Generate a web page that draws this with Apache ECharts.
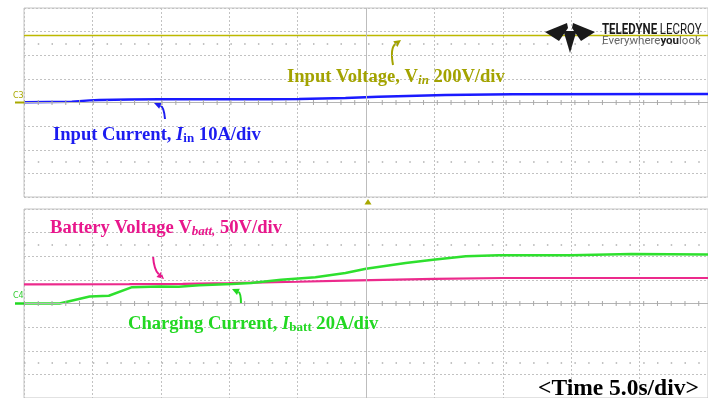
<!DOCTYPE html>
<html><head><meta charset="utf-8">
<script src="https://cdn.jsdelivr.net/npm/echarts@6/dist/echarts.min.js"></script>
<style>html,body{margin:0;padding:0;background:#fff}#c{width:708px;height:398px}</style>
</head><body><div id="c"></div>
<script>
// Time axis: seconds (5.0 s/div, 10 divisions). Values in screen divisions from channel ground (centre line).
const timeTicks = [0, 5, 10, 15, 20, 25, 30, 35, 40, 45, 50];
const timeVin = [0, 50];
const vinDiv  = [2.84, 2.84];
const timeIin = [0, 3.5, 4.8, 5.5, 7.7, 9.9, 17.9, 20.1, 23.5, 25.9, 30.8, 35.7, 50];
const iinDiv  = [0.01, 0.03, 0.09, 0.11, 0.13, 0.14, 0.14, 0.15, 0.19, 0.245, 0.32, 0.35, 0.36];
const timeVbatt = [0, 7.7, 11.6, 15, 20, 23.5, 30, 35, 50];
const vbattDiv  = [0.81, 0.82, 0.83, 0.86, 0.92, 0.97, 1.04, 1.08, 1.08];
const timeIbatt = [0, 2.6, 4.8, 6.2, 7.9, 8.6, 9.9, 11.3, 12.8, 15.2, 16.6, 18.8, 21.3, 23.5, 25, 27.9, 29.9, 32.3, 34.7, 40, 44.4, 50];
const ibattDiv  = [0.0, 0.0, 0.3, 0.33, 0.69, 0.70, 0.72, 0.71, 0.77, 0.83, 0.87, 1.01, 1.11, 1.29, 1.47, 1.71, 1.85, 2.0, 2.04, 2.04, 2.1, 2.07];

const pairs = (t, v) => t.map((x, i) => [x, v[i]]);
const chart = echarts.init(document.getElementById('c'), null, {renderer: 'canvas'});

const gridLine = {show: true, lineStyle: {color: '#c2c2c2', type: [2, 2], width: 1}};
function xAx(g) {
  return {type: 'value', gridIndex: g, min: timeTicks[0], max: timeTicks[timeTicks.length - 1], interval: 5,
    axisLine: {show: false}, axisTick: {show: false}, axisLabel: {show: false}, splitLine: gridLine};
}
function yAx(g) {
  return {type: 'value', gridIndex: g, min: -4, max: 4, interval: 1,
    axisLine: {show: false}, axisTick: {show: false}, axisLabel: {show: false}, splitLine: gridLine};
}
function furniture(g) {
  return {type: 'line', xAxisIndex: g, yAxisIndex: g, data: [], z: 1, silent: true,
    markLine: {silent: true, symbol: ['none', 'none'], label: {show: false}, animation: false,
      emphasis: {disabled: true},
      data: [
        {yAxis: 0, lineStyle: {color: '#b4b4b4', type: 'solid', width: 1}},
        {yAxis: 0, lineStyle: {color: '#a8a8a8', type: [1, 12.76], width: 5}},
        {xAxis: 25, lineStyle: {color: '#bdbdbd', type: 'solid', width: 1}},
        {yAxis: 2.5, lineStyle: {color: '#b0b0b0', type: [1.5, 12.26], width: 1.5}},
        {yAxis: -2.5, lineStyle: {color: '#b0b0b0', type: [1.5, 12.26], width: 1.5}}
      ]}};
}
function trace(g, data, color, w) {
  return {type: 'line', xAxisIndex: g, yAxisIndex: g, data: data, showSymbol: false, z: 3,
    lineStyle: {color: color, width: w}, emphasis: {disabled: true}};
}
function arrow(x1, y1, cx, cy, x2, y2, color) {
  let dx = x2 - cx, dy = y2 - cy; const L = Math.hypot(dx, dy); dx /= L; dy /= L;
  const hl = 7, hw = 3.5;
  const bx = x2 - hl * dx, by = y2 - hl * dy;
  return [
    {type: 'bezierCurve', shape: {x1: x1, y1: y1, cpx1: cx, cpy1: cy, x2: bx, y2: by}, style: {stroke: color, lineWidth: 2, fill: null}},
    {type: 'polygon', shape: {points: [[x2, y2], [bx - hw * dy, by + hw * dx], [bx + hw * dy, by - hw * dx]]}, style: {fill: color}}
  ];
}
const SERIF = '"Liberation Serif", "Times New Roman", serif';
function rich(col) {
  return {
    a: {fill: col, fontFamily: SERIF, fontWeight: 'bold', fontSize: 18.6},
    i: {fill: col, fontFamily: SERIF, fontWeight: 'bold', fontStyle: 'italic', fontSize: 18.6},
    s: {fill: col, fontFamily: SERIF, fontWeight: 'bold', fontSize: 13, verticalAlign: 'bottom', lineHeight: 9},
    si: {fill: col, fontFamily: SERIF, fontWeight: 'bold', fontStyle: 'italic', fontSize: 13, verticalAlign: 'bottom', lineHeight: 9}
  };
}
const olive = '#a3a300', blue = '#1c1cf0', mag = '#e8178c', grn = '#22d822';
const graphics = [
  {type: 'text', left: 287, top: 68, z: 10, style: {text: '{a|Input Voltage, V}{si|in}{a| 200V/div}', rich: rich(olive)}},
  {type: 'text', left: 53, top: 126, z: 10, style: {text: '{a|Input Current, }{i|I}{s|in}{a| 10A/div}', rich: rich(blue)}},
  {type: 'text', left: 50, top: 219, z: 10, style: {text: '{a|Battery Voltage V}{si|batt,}{a| 50V/div}', rich: rich(mag)}},
  {type: 'text', left: 128, top: 315, z: 10, style: {text: '{a|Charging Current, }{i|I}{s|batt}{a| 20A/div}', rich: rich(grn)}},
  {type: 'text', left: 538, top: 376.5, z: 10, style: {text: '<Time 5.0s/div>', fill: '#000', fontFamily: SERIF, fontWeight: 'bold', fontSize: 23.5}},
  // channel markers
  {type: 'text', left: 13, top: 92, z: 10, style: {text: 'C3', fill: '#a8a800', fontFamily: 'DejaVu Sans', fontSize: 8}},
  {type: 'line', z: 10, shape: {x1: 15, y1: 102.5, x2: 24, y2: 102.5}, style: {stroke: '#a8a800', lineWidth: 2}},
  {type: 'text', left: 13, top: 292, z: 10, style: {text: 'C4', fill: '#33cc33', fontFamily: 'DejaVu Sans', fontSize: 8}},
  {type: 'line', z: 10, shape: {x1: 15, y1: 303.5, x2: 24, y2: 303.5}, style: {stroke: '#22d822', lineWidth: 2.5}},
  // trigger marker
  {type: 'polygon', z: 10, shape: {points: [[368, 199], [364.5, 204.5], [371.5, 204.5]]}, style: {fill: '#a8a800'}},
  // logo
  {type: 'polygon', z: 10, shape: {points: [[545, 32], [567, 23], [568, 28], [559, 41]]}, style: {fill: '#1a1a1a'}},
  {type: 'polygon', z: 10, shape: {points: [[595, 32], [573, 23], [572, 28], [581, 41]]}, style: {fill: '#1a1a1a'}},
  {type: 'polygon', z: 10, shape: {points: [[563.5, 31], [576.5, 31], [570, 53]]}, style: {fill: '#1a1a1a'}},
  {type: 'text', left: 602, top: 23, z: 10, scaleX: 0.82, originX: 602, style: {text: '{b|TELEDYNE} {n|LECROY}',
    rich: {b: {fill: '#1a1a1a', fontFamily: 'Roboto', fontWeight: 'bold', fontSize: 14}, n: {fill: '#1a1a1a', fontFamily: 'Roboto', fontWeight: 'normal', fontSize: 14}}}},
  {type: 'text', left: 602, top: 35, z: 10, style: {text: '{n|Everywhere}{b|you}{n|look}',
    rich: {b: {fill: '#222', fontFamily: 'Roboto', fontWeight: 'bold', fontSize: 11.5}, n: {fill: '#666', fontFamily: 'Roboto', fontWeight: 'normal', fontSize: 11.5}}}}
].concat(
  arrow(393, 65, 390, 48, 401, 40, olive),
  arrow(165, 119, 164, 107, 154, 103, blue),
  arrow(153, 256, 154, 270, 164, 279, mag),
  arrow(241, 304, 241, 293, 232, 289, grn)
);

chart.setOption({
  animation: false,
  backgroundColor: '#ffffff',
  grid: [
    {left: 24, top: 8, width: 688, height: 189, show: true, borderColor: '#c4c4c4', borderWidth: 1},
    {left: 24, top: 209, width: 688, height: 189, show: true, borderColor: '#c4c4c4', borderWidth: 1}
  ],
  xAxis: [xAx(0), xAx(1)],
  yAxis: [yAx(0), yAx(1)],
  series: [
    furniture(0), furniture(1),
    trace(0, pairs(timeVin, vinDiv), '#bdb900', 1.5),
    trace(0, pairs(timeIin, iinDiv), '#1a1aff', 2.5),
    trace(1, pairs(timeVbatt, vbattDiv), '#ec2a8c', 2.2),
    trace(1, pairs(timeIbatt, ibattDiv), '#2ee02e', 2.5)
  ],
  graphic: graphics
});
</script></body></html>
